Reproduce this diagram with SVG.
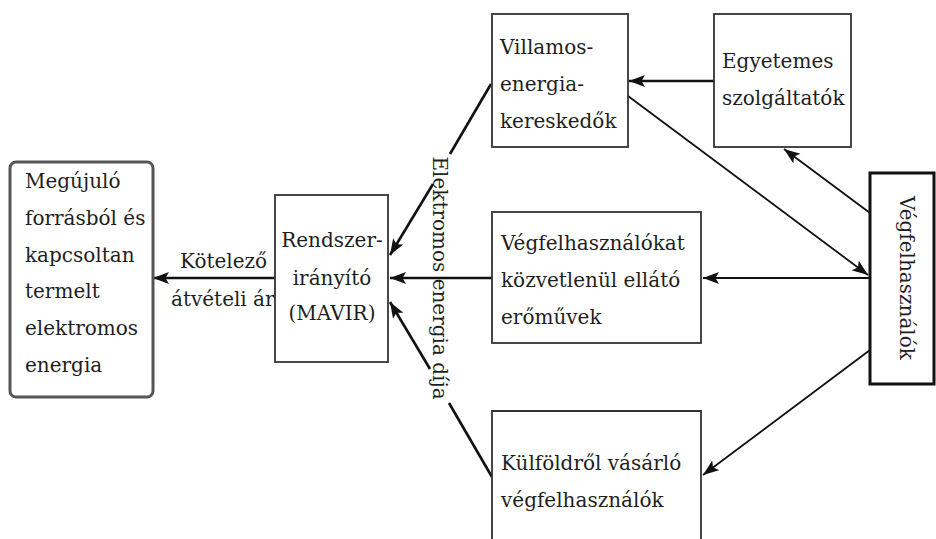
<svg xmlns="http://www.w3.org/2000/svg" width="936" height="539" viewBox="0 0 936 539">
<style>
text{font-family:"DejaVu Serif","Liberation Serif",serif;font-size:20px;fill:#1e1e1e}
.box{fill:#fff;stroke:#333;stroke-width:1.8}
.thick{fill:#fff;stroke:#111;stroke-width:3}
.round{fill:#fff;stroke:#555;stroke-width:3}
.c{fill:none;stroke:#111;stroke-width:2.6}
.t{fill:none;stroke:#111;stroke-width:1.8}
.mid{text-anchor:middle}
</style>
<defs>
<marker id="ah" markerUnits="userSpaceOnUse" markerWidth="18" markerHeight="14" refX="16" refY="6" orient="auto">
<path d="M0,0 L16,6 L0,12 L3.5,6 z" fill="#111"/>
</marker>
</defs>
<rect width="936" height="539" fill="#fff"/>

<g id="connectors">
<path class="c" d="M275,278 L153,278" marker-end="url(#ah)"/>
<path class="c" d="M492,278 L390,278" marker-end="url(#ah)"/>
<path class="c" d="M491,84 L450,154"/>
<path class="c" d="M433,184 L390,255" marker-end="url(#ah)"/>
<path class="c" d="M492,477 L449,403"/>
<path class="c" d="M430,369 L390,302" marker-end="url(#ah)"/>
<path class="c" d="M714,81 L629,81" marker-end="url(#ah)"/>
<path class="t" d="M628,96 L868,275" marker-end="url(#ah)"/>
<path class="t" d="M870,213 L784,149" marker-end="url(#ah)"/>
<path class="t" d="M870,278 L703,278" marker-end="url(#ah)"/>
<path class="t" d="M870,350 L703,475" marker-end="url(#ah)"/>
</g>

<g id="megujulo">
<rect class="round" x="10" y="162" width="143" height="235" rx="6"/>
<text x="25" y="188">Megújuló</text>
<text x="25" y="225">forrásból és</text>
<text x="25" y="262">kapcsoltan</text>
<text x="25" y="298">termelt</text>
<text x="25" y="335">elektromos</text>
<text x="25" y="372">energia</text>
</g>

<g id="atveteli-label">
<text x="180" y="268">Kötelező</text>
<text x="171" y="306">átvételi ár</text>
</g>

<g id="mavir">
<rect class="box" x="275" y="195" width="113" height="167"/>
<text class="mid" x="332" y="247">Rendszer-</text>
<text class="mid" x="332" y="285">irányító</text>
<text class="mid" x="332" y="320">(MAVIR)</text>
</g>

<g id="energia-dija-label">
<text class="mid" transform="translate(433,278) rotate(90)">Elektromos energia díja</text>
</g>

<g id="kereskedok">
<rect class="box" x="492" y="14" width="136" height="133"/>
<text x="500" y="54">Villamos-</text>
<text x="500" y="91">energia-</text>
<text x="500" y="128">kereskedők</text>
</g>

<g id="egyetemes">
<rect class="box" x="714" y="14" width="137" height="133"/>
<text x="722" y="68">Egyetemes</text>
<text x="722" y="105">szolgáltatók</text>
</g>

<g id="eromuvek">
<rect class="box" x="492" y="212" width="209" height="131"/>
<text x="501" y="250">Végfelhasználókat</text>
<text x="501" y="287">közvetlenül ellátó</text>
<text x="501" y="324">erőművek</text>
</g>

<g id="kulfoldrol">
<path class="box" d="M492,545 L492,411 L701,411 L701,545"/>
<text x="501" y="470">Külföldről vásárló</text>
<text x="501" y="507">végfelhasználók</text>
</g>

<g id="vegfelhasznalok">
<rect class="thick" x="870" y="173" width="64" height="211"/>
<text class="mid" transform="translate(900,278) rotate(90)">Végfelhasználók</text>
</g>
</svg>
